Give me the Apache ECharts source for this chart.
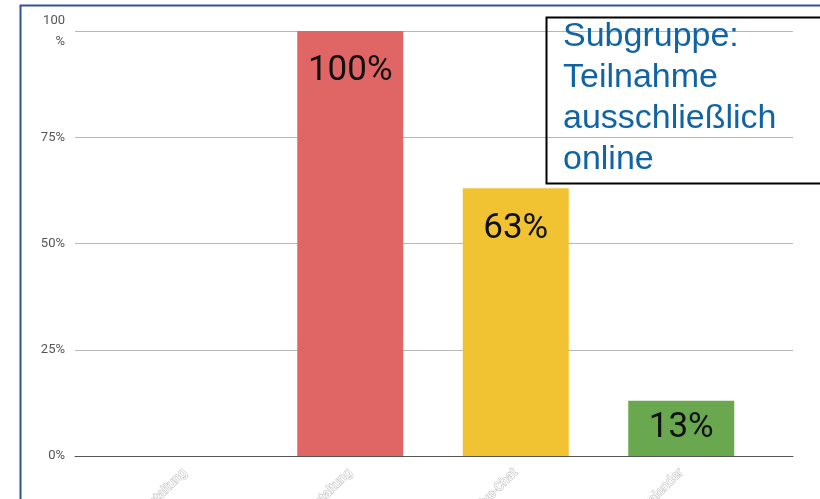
<!DOCTYPE html>
<html>
<head>
<meta charset="utf-8">
<script src="https://cdn.jsdelivr.net/npm/echarts@6/dist/echarts.min.js"></script>
<style>
  html, body { margin: 0; padding: 0; background: #fff; }
  #main { width: 820px; height: 499px; }
</style>
</head>
<body>
<div id="main"></div>
<script>
var myChart = echarts.init(document.getElementById('main'));

// Daten
const categories = ['Präsenzveranstaltung', 'Onlineveranstaltung', 'Live-Chat', 'Terminkalender'];
const values = [0, 100, 63, 13];
const yTicks = [0, 25, 50, 75, 100];
const barColors = ['#4a86e8', '#e06666', '#f1c232', '#6aa84f'];
const noteLines = ['Subgruppe:', 'Teilnahme', 'ausschließlich', 'online'];

const barData = values.map(function (v, i) {
    return {
        value: v,
        itemStyle: { color: barColors[i] },
        label: v < 20 ? { position: 'inside' } : undefined
    };
});

const option = {
    animation: false,
    grid: [
        { left: 75, right: 27, top: 31, bottom: 43, outerBoundsMode: 'none', containLabel: false },
        { left: 102, right: 56, top: 31, bottom: 43, outerBoundsMode: 'none', containLabel: false }
    ],
    xAxis: [
        {
            gridIndex: 0,
            type: 'value',
            min: 0,
            max: 1,
            axisLine: { show: true, lineStyle: { color: '#555', width: 1 } },
            axisTick: { show: false },
            axisLabel: { show: false },
            splitLine: { show: false }
        },
        {
            gridIndex: 1,
            type: 'category',
            data: categories,
            axisLine: { show: false },
            axisTick: { show: false },
            axisLabel: {
                rotate: 45,
                margin: 15,
                fontSize: 13,
                fontFamily: 'Roboto',
                color: '#ffffff',
                textBorderColor: '#c4c4c4',
                textBorderWidth: 1.2
            }
        }
    ],
    yAxis: [
        {
            gridIndex: 0,
            type: 'value',
            min: 0,
            max: 100,
            interval: 25,
            axisLine: { show: false },
            axisTick: { show: false },
            axisLabel: {
                margin: 10,
                fontSize: 13,
                lineHeight: 21,
                fontFamily: 'Roboto',
                color: '#555',
                formatter: function (v) {
                    return v === yTicks[yTicks.length - 1] ? v + '\n%' : v + '%';
                }
            },
            splitLine: { lineStyle: { color: '#b7b7b7', width: 1 } }
        },
        {
            gridIndex: 1,
            type: 'value',
            min: 0,
            max: 100,
            show: false
        }
    ],
    series: [
        {
            type: 'bar',
            xAxisIndex: 1,
            yAxisIndex: 1,
            barWidth: 106,
            data: barData,
            label: {
                show: true,
                position: 'insideTop',
                distance: 23,
                fontSize: 35,
                fontFamily: 'Roboto',
                color: '#111',
                formatter: function (p) {
                    return p.value ? p.value + '%' : '';
                }
            }
        }
    ],
    graphic: [
        {
            type: 'rect',
            left: 18,
            top: 3,
            shape: { width: 840, height: 520 },
            style: { fill: 'none', stroke: '#2f5597', lineWidth: 2 },
            z: 100
        },
        {
            type: 'rect',
            left: 544,
            top: 15,
            shape: { width: 300, height: 166 },
            style: { fill: 'none', stroke: '#000', lineWidth: 2 },
            z: 100
        },
        {
            type: 'text',
            left: 563,
            top: 16,
            style: {
                text: noteLines.join('\n'),
                fontSize: 34,
                lineHeight: 41,
                fontFamily: 'Liberation Sans',
                fill: '#1064a3'
            },
            z: 100
        }
    ]
};

myChart.setOption(option);
</script>
</body>
</html>
